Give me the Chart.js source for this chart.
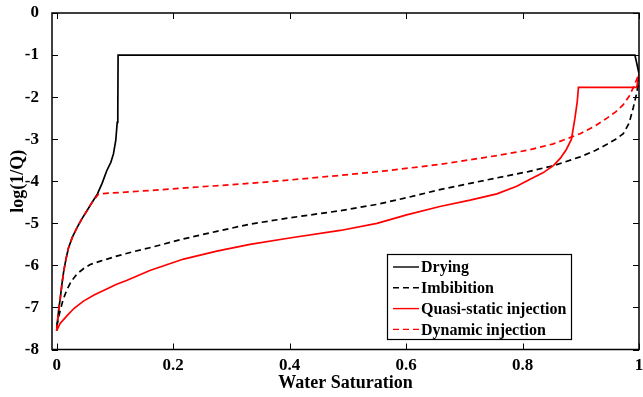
<!DOCTYPE html>
<html>
<head>
<meta charset="utf-8">
<script src="https://cdn.jsdelivr.net/npm/chart.js@4"></script>
<style>
  body { margin: 0; background: #fff; }
  #wrap { width: 643px; height: 397px; }
</style>
</head>
<body>
<div id="wrap"><canvas id="chart" width="643" height="397"></canvas></div>
<script>
// values
const seriesNames = ['Drying', 'Imbibition', 'Quasi-static injection', 'Dynamic injection'];

const dryingX = [0, 0.002, 0.004, 0.006, 0.009, 0.012, 0.016, 0.02, 0.027, 0.035, 0.043, 0.052, 0.061, 0.07, 0.078, 0.086, 0.093, 0.0975, 0.1015, 0.104, 0.105, 0.1055, 0.993, 1.0];
const dryingY = [-7.55, -7.25, -7.0, -6.8, -6.45, -6.15, -5.85, -5.6, -5.33, -5.1, -4.9, -4.7, -4.5, -4.3, -4.05, -3.75, -3.55, -3.35, -3.03, -2.6, -2.3, -1.0, -1.0, -1.44];

const imbibitionX = [0, 0.003, 0.006, 0.011, 0.0175, 0.025, 0.035, 0.046, 0.0575, 0.075, 0.103, 0.13, 0.16, 0.218, 0.275, 0.332, 0.4, 0.487, 0.55, 0.601, 0.658, 0.71, 0.756, 0.81, 0.853, 0.899, 0.925, 0.945, 0.96, 0.973, 0.983, 0.99, 0.995, 0.999, 1.0];
const imbibitionY = [-7.45, -7.25, -7.08, -6.82, -6.58, -6.38, -6.2, -6.08, -5.98, -5.9, -5.78, -5.68, -5.58, -5.37, -5.19, -5.02, -4.87, -4.7, -4.55, -4.39, -4.2, -4.05, -3.92, -3.77, -3.63, -3.42, -3.27, -3.12, -3.0, -2.87, -2.62, -2.26, -1.97, -1.68, -1.5];

const quasiX = [0, 0.006, 0.0175, 0.03, 0.046, 0.065, 0.086, 0.103, 0.12, 0.16, 0.218, 0.275, 0.332, 0.4, 0.487, 0.55, 0.601, 0.658, 0.71, 0.756, 0.79, 0.813, 0.835, 0.853, 0.865, 0.875, 0.884, 0.89, 0.894, 0.896, 0.996, 1.0];
const quasiY = [-7.55, -7.38, -7.2, -7.02, -6.85, -6.7, -6.56, -6.45, -6.36, -6.12, -5.85, -5.66, -5.5, -5.35, -5.17, -5.0, -4.8, -4.6, -4.45, -4.3, -4.12, -3.95, -3.8, -3.63, -3.45, -3.25, -3.0, -2.5, -2.1, -1.77, -1.77, -1.44];

const dynamicX = [0, 0.002, 0.004, 0.006, 0.009, 0.012, 0.016, 0.02, 0.027, 0.035, 0.043, 0.052, 0.061, 0.072, 0.16, 0.25, 0.332, 0.4, 0.487, 0.56, 0.658, 0.756, 0.81, 0.853, 0.899, 0.925, 0.945, 0.96, 0.973, 0.983, 0.99, 0.996, 1.0];
const dynamicY = [-7.55, -7.25, -7.0, -6.8, -6.45, -6.15, -5.85, -5.6, -5.33, -5.1, -4.9, -4.7, -4.5, -4.3, -4.22, -4.13, -4.05, -3.97, -3.86, -3.76, -3.6, -3.39, -3.26, -3.11, -2.87, -2.68, -2.5, -2.35, -2.18, -1.98, -1.78, -1.58, -1.44];

const xTicks = [0, 0.2, 0.4, 0.6, 0.8, 1];
const yTicks = [0, -1, -2, -3, -4, -5, -6, -7, -8];

function pts(xs, ys) {
    return xs.map((x, i) => ({ x: x, y: ys[i] }));
}

const serif = "'Liberation Serif', 'Times New Roman', serif";

// box, inward ticks on all four sides and the legend
const framePlugin = {
    id: 'frame',
    afterDraw(chart) {
        const ctx = chart.ctx;
        const a = chart.chartArea;
        const xs = chart.scales.x, ys = chart.scales.y;
        ctx.save();
        ctx.strokeStyle = '#000';
        ctx.lineWidth = 1.5;
        ctx.strokeRect(a.left, a.top, a.right - a.left, a.bottom - a.top);
        ctx.lineWidth = 1;
        ctx.beginPath();
        xTicks.forEach(v => {
            const px = Math.round(xs.getPixelForValue(v)) + 0.5;
            ctx.moveTo(px, a.bottom); ctx.lineTo(px, a.bottom - 6);
            ctx.moveTo(px, a.top); ctx.lineTo(px, a.top + 6);
        });
        yTicks.forEach(v => {
            const py = Math.round(ys.getPixelForValue(v)) + 0.5;
            ctx.moveTo(a.left, py); ctx.lineTo(a.left + 6, py);
            ctx.moveTo(a.right, py); ctx.lineTo(a.right - 6, py);
        });
        ctx.stroke();

        // legend
        const bx = 387, by = 254, bw = 184, bh = 85;
        ctx.fillStyle = '#fff';
        ctx.fillRect(bx, by, bw, bh);
        ctx.lineWidth = 1.2;
        ctx.strokeStyle = '#000';
        ctx.strokeRect(bx + 0.5, by + 0.5, bw, bh);
        ctx.font = 'bold 16px ' + serif;
        ctx.textBaseline = 'middle';
        chart.data.datasets.forEach((ds, i) => {
            const y = by + 13 + i * 20.8;
            ctx.beginPath();
            ctx.strokeStyle = ds.borderColor;
            ctx.lineWidth = 1.4;
            ctx.setLineDash(ds.borderDash || []);
            ctx.moveTo(bx + 6, y); ctx.lineTo(bx + 32, y);
            ctx.stroke();
            ctx.setLineDash([]);
            ctx.fillStyle = '#000';
            ctx.fillText(ds.label, bx + 34, y + 1);
        });
        ctx.restore();
    }
};

const ctx = document.getElementById('chart').getContext('2d');
const chart = new Chart(ctx, {
    type: 'scatter',
    data: {
        datasets: [
            { label: seriesNames[0], data: pts(dryingX, dryingY), borderColor: '#000000', order: 2 },
            { label: seriesNames[1], data: pts(imbibitionX, imbibitionY), borderColor: '#000000', borderDash: [6, 4], order: 2 },
            { label: seriesNames[2], data: pts(quasiX, quasiY), borderColor: '#ff0000', order: 1 },
            { label: seriesNames[3], data: pts(dynamicX, dynamicY), borderColor: '#ff0000', borderDash: [6, 4], order: 1 }
        ].map(d => Object.assign(d, {
            showLine: true, pointRadius: 0, borderWidth: 1.7, tension: 0, fill: false
        }))
    },
    options: {
        responsive: false,
        animation: false,
        layout: { padding: { left: 0, right: 4, top: 13, bottom: 0 } },
        plugins: { legend: { display: false }, tooltip: { enabled: false } },
        scales: {
            x: {
                type: 'linear',
                min: -0.008,
                max: 1,
                afterBuildTicks: s => { s.ticks = xTicks.map(v => ({ value: v })); },
                afterFit: s => { s.height = 47.5; s.paddingLeft = 0; s.paddingRight = 0; },
                grid: { display: false },
                border: { display: false },
                ticks: {
                    color: '#000',
                    padding: 0,
                    maxRotation: 0,
                    font: { family: serif, size: 17, weight: 'bold', lineHeight: 1 },
                    callback: v => String(v)
                },
                title: {
                    display: true,
                    text: 'Water Saturation',
                    color: '#000',
                    padding: { top: 0, bottom: 3 },
                    font: { family: serif, size: 18, weight: 'bold' }
                }
            },
            y: {
                type: 'linear',
                min: -8,
                max: 0,
                afterBuildTicks: s => { s.ticks = yTicks.map(v => ({ value: v })); },
                afterFit: s => { s.width = 52; s.paddingTop = 0; s.paddingBottom = 0; },
                grid: { display: false },
                border: { display: false },
                ticks: {
                    color: '#000',
                    padding: 5,
                    font: { family: serif, size: 17, weight: 'bold' },
                    callback: v => String(v)
                },
                title: {
                    display: true,
                    text: 'log(1/Q)',
                    color: '#000',
                    padding: { top: 8, bottom: 0 },
                    font: { family: serif, size: 18, weight: 'bold' }
                }
            }
        }
    },
    plugins: [framePlugin]
});
</script>
</body>
</html>
